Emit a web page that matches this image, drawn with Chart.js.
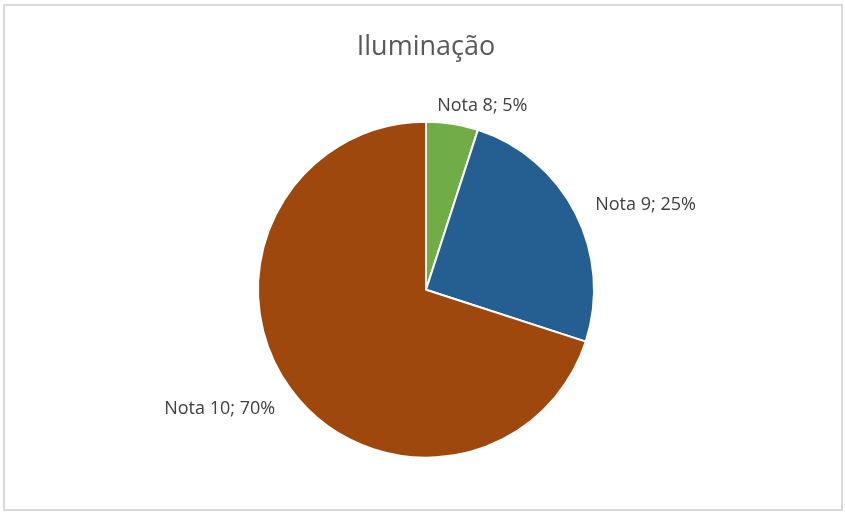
<!DOCTYPE html>
<html>
<head>
<meta charset="utf-8">
<script src="https://cdn.jsdelivr.net/npm/chart.js@4/dist/chart.umd.min.js"></script>
<style>
  html, body { margin: 0; padding: 0; background: #fff; }
  #wrap { width: 845px; height: 514px; }
</style>
</head>
<body>
<div id="wrap"><canvas id="chart"></canvas></div>
<script>
const categories = ["Nota 8", "Nota 9", "Nota 10"];
const values = [5, 25, 70];
const sliceColors = ["#70AD47", "#255E91", "#9E480E"];
const chartTitle = "Iluminação";

// white background + light frame like the Excel chart area
const frame = {
  id: "frame",
  beforeDraw(chart) {
    const ctx = chart.ctx;
    ctx.save();
    ctx.fillStyle = "#fff";
    ctx.fillRect(0, 0, chart.width, chart.height);
    ctx.strokeStyle = "#d9d9d9";
    ctx.lineWidth = 2;
    ctx.strokeRect(4, 5, chart.width - 7, chart.height - 9);
    ctx.restore();
  }
};

// "Nota x; y%" labels outside each slice
const outsideLabels = {
  id: "outsideLabels",
  afterDatasetsDraw(chart) {
    const ctx = chart.ctx;
    const meta = chart.getDatasetMeta(0);
    const total = values.reduce((a, b) => a + b, 0);
    ctx.save();
    ctx.font = "18px 'Open Sans'";
    ctx.fillStyle = "#404040";
    ctx.textBaseline = "middle";
    ctx.textAlign = "left";
    meta.data.forEach((arc, i) => {
      const p = arc.getProps(["x", "y", "startAngle", "endAngle", "outerRadius"], true);
      const mid = (p.startAngle + p.endAngle) / 2;
      const r = p.outerRadius + 18;
      const c = Math.cos(mid);
      const s = Math.sin(mid);
      const ax = p.x + c * r + c * 7;
      const ay = p.y + s * r + Math.max(0, s) * 17;
      const text = categories[i] + "; " + Math.round(values[i] / total * 100) + "%";
      const w = ctx.measureText(text).width;
      const frac = (1 - Math.abs(c)) / 4;
      const left = c >= 0 ? ax - frac * w : ax - (1 - frac) * w;
      ctx.fillText(text, left, ay);
    });
    ctx.restore();
  }
};

new Chart(document.getElementById("chart"), {
  type: "pie",
  data: {
    labels: categories,
    datasets: [{
      data: values,
      backgroundColor: sliceColors,
      borderColor: "#fff",
      borderWidth: 2
    }]
  },
  options: {
    responsive: true,
    maintainAspectRatio: false,
    animation: false,
    layout: { padding: { top: 0, bottom: 55, left: 257, right: 250 } },
    plugins: {
      legend: { display: false },
      tooltip: { enabled: false },
      title: {
        display: true,
        text: chartTitle,
        color: "#595959",
        font: { family: "'Open Sans'", size: 27, weight: "normal", lineHeight: 1.2 },
        padding: { top: 31, bottom: 57 }
      }
    }
  },
  plugins: [frame, outsideLabels]
});
</script>
</body>
</html>
